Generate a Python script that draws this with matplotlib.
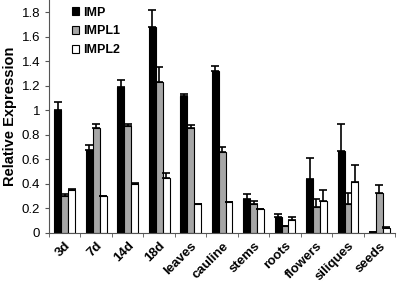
# Expresión relativa de IMP, IMPL1 e IMPL2 por tejido / estadio
import numpy as np
import matplotlib.pyplot as plt

plt.rcParams['font.family'] = ['Liberation Sans', 'DejaVu Sans']

categorias = ["3d", "7d", "14d", "18d", "leaves", "cauline", "stems",
              "roots", "flowers", "siliques", "seeds"]

imp = [1.00, 0.68, 1.19, 1.68, 1.12, 1.32, 0.28, 0.128, 0.44, 0.67, 0.005]
imp_err = [0.07, 0.04, 0.06, 0.14, 0.01, 0.04, 0.04, 0.03, 0.17, 0.22, 0.0]

impl1 = [0.30, 0.86, 0.87, 1.23, 0.86, 0.66, 0.24, 0.057, 0.21, 0.24, 0.33]
impl1_err = [0.02, 0.03, 0.02, 0.12, 0.02, 0.04, 0.02, 0.0, 0.07, 0.09, 0.06]

impl2 = [0.35, 0.30, 0.40, 0.45, 0.24, 0.25, 0.195, 0.11, 0.26, 0.415, 0.04]
impl2_err = [0.005, 0.0, 0.005, 0.04, 0.0, 0.0, 0.0, 0.02, 0.09, 0.14, 0.01]

x = np.arange(len(categorias))
ancho = 0.22

fig = plt.figure(figsize=(3.97, 2.83), dpi=100)
ax = fig.add_axes([0.1234, 0.1767, 0.872, 0.8233])

err_kw = dict(elinewidth=1.2, capsize=3, capthick=1.2, ecolor="black")

ax.bar(x - ancho, imp, ancho, color="black", edgecolor="black", linewidth=0.8,
       yerr=[np.zeros(len(imp)), imp_err], error_kw=err_kw, label="IMP")
ax.bar(x, impl1, ancho, color="#a6a6a6", edgecolor="black", linewidth=0.8,
       yerr=[np.zeros(len(impl1)), impl1_err], error_kw=err_kw, label="IMPL1")
ax.bar(x + ancho, impl2, ancho, color="white", edgecolor="black", linewidth=0.8,
       yerr=[np.zeros(len(impl2)), impl2_err], error_kw=err_kw, label="IMPL2")

ax.set_xlim(-0.5, len(categorias) - 0.5)
ax.set_ylim(0, 1.9)
ax.set_yticks([0, 0.2, 0.4, 0.6, 0.8, 1.0, 1.2, 1.4, 1.6, 1.8])
ax.set_yticklabels(["0", "0.2", "0.4", "0.6", "0.8", "1", "1.2", "1.4", "1.6", "1.8"],
                   fontsize=9.5)
ax.set_ylabel("Relative Expression", fontsize=10.5, fontweight="bold", labelpad=3)

ax.set_xticks(x)
ax.set_xticklabels(categorias, rotation=45, ha="right", rotation_mode="anchor",
                   fontsize=9.5, fontweight="bold")
ax.tick_params(axis="x", length=0, pad=5)
ax.set_xticks(np.arange(-0.5, len(categorias), 1), minor=True)
ax.tick_params(axis="x", which="minor", length=3, color="#555555")
ax.tick_params(axis="y", length=3, color="#555555")

ax.spines["top"].set_visible(False)
ax.spines["right"].set_visible(False)
ax.spines["left"].set_color("#555555")
ax.spines["bottom"].set_color("#555555")

leg = ax.legend(loc="upper left", bbox_to_anchor=(0.035, 1.02), frameon=False,
                prop={"weight": "bold", "size": 9}, handlelength=0.55,
                handleheight=0.55, handletextpad=0.3, labelspacing=0.55)

plt.savefig("out.png", dpi=100)
